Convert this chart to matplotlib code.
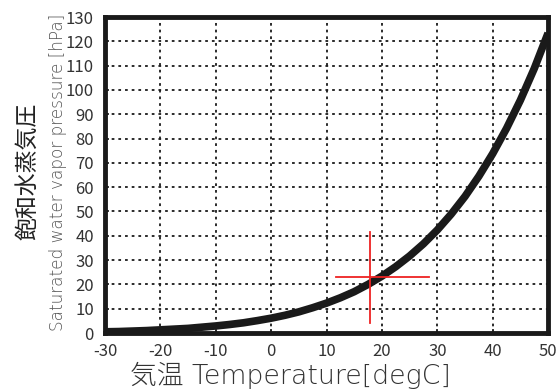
import matplotlib
matplotlib.use("Agg")
import matplotlib.pyplot as plt

plt.rcParams['font.family'] = ['Noto Sans CJK JP', 'DejaVu Sans']

# Data
temperature = [-30, -27.5, -25, -22.5, -20, -17.5, -15, -12.5, -10, -7.5, -5, -2.5, 0, 2.5, 5, 7.5,
               10, 12.5, 15, 17.5, 20, 22.5, 25, 27.5, 30, 32.5, 35, 37.5, 40, 42.5, 45, 47.5, 50]
pressure = [0.5, 0.6, 0.8, 1.0, 1.3, 1.6, 1.9, 2.4, 2.9, 3.5, 4.2, 5.1, 6.1, 7.3, 8.7, 10.4,
            12.3, 14.5, 17.0, 20.0, 23.4, 27.3, 31.7, 36.7, 42.4, 48.9, 56.2, 64.5, 73.8, 84.2, 95.8, 108.8, 123.4]

cross_x = 17.8
cross_y = 23.2
cross_x_range = [11.7, 28.5]
cross_y_range = [4.3, 41.7]

x_ticks = [-30, -20, -10, 0, 10, 20, 30, 40, 50]
y_ticks = [0, 10, 20, 30, 40, 50, 60, 70, 80, 90, 100, 110, 120, 130]

fig = plt.figure(figsize=(5.57, 3.92), dpi=100)
ax = fig.add_axes([0.1885, 0.1505, 0.7955, 0.806])

ax.plot(temperature, pressure, color='#1a1a1a', linewidth=5.5, solid_capstyle='butt',
        solid_joinstyle='round', zorder=3)
ax.plot(cross_x_range, [cross_y, cross_y], color='#ee2222', linewidth=1.3, zorder=4)
ax.plot([cross_x, cross_x], cross_y_range, color='#ee2222', linewidth=1.3, zorder=4)

ax.set_xlim(-30, 50)
ax.set_ylim(0, 130)
ax.set_xticks(x_ticks)
ax.set_yticks(y_ticks)
ax.set_xticklabels([str(v) for v in x_ticks], fontsize=12, color='#333333')
ax.set_yticklabels([str(v) for v in y_ticks], fontsize=12, color='#333333')
ax.tick_params(axis='both', direction='in', length=3, width=1.2, color='#1a1a1a')
ax.tick_params(axis='x', pad=7)
ax.tick_params(axis='y', pad=8)

ax.grid(True, color='#1a1a1a', linestyle=(0, (1.5, 2.2)), linewidth=1.3, zorder=1)
for s in ax.spines.values():
    s.set_linewidth(3.5)
    s.set_color('#1a1a1a')

fig.text(0.05, 0.562, '飽和水蒸気圧', rotation=90, ha='center', va='center', fontsize=16.5,
         color='#222222')
fig.text(0.104, 0.561, 'Saturated water vapor pressure [hPa]', rotation=90, ha='center', va='center',
         fontsize=12.2, color='#555555', family=['DejaVu Sans'], fontweight='light')
fig.text(0.522, 0.042, '気温 Temperature[degC]', ha='center', va='center', fontsize=19.3,
         color='#333333', family=['DejaVu Sans', 'Noto Sans CJK JP'], fontweight='light')

fig.savefig('out.png', dpi=100)
